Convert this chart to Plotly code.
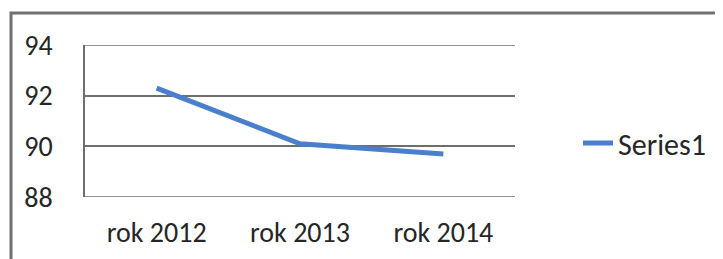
import plotly.graph_objects as go

categories = ["rok 2012", "rok 2013", "rok 2014"]
series1 = [92.3, 90.1, 89.7]
y_ticks = [88, 90, 92, 94]

OFF = 8  # page body margin
# target plot-area edges in screen pixels
SL, SR, ST, SB = 85, 515, 45, 197
L, R, T, B = SL - OFF, SR - OFF, ST - OFF, SB - OFF
W, H = 723, 259

fig = go.Figure()
fig.add_trace(go.Scatter(
    x=categories, y=series1, mode="lines", name="Series1",
    line=dict(color="#4A7FCC", width=5),
))

def px_to_paper_x(p):
    return (p - SL) / (SR - SL)

def px_to_paper_y(p):
    return 1 - (p - ST) / (SB - ST)

fig.add_shape(type="rect", xref="paper", yref="paper",
              x0=px_to_paper_x(11), x1=px_to_paper_x(780),
              y0=px_to_paper_y(320), y1=px_to_paper_y(13),
              line=dict(color="#707070", width=3), layer="below")

for v in (y_ticks[0], y_ticks[-1]):
    fig.add_shape(type="line", xref="paper", yref="y", x0=0, x1=1, y0=v, y1=v,
                  line=dict(color="#6e6e6e", width=1.6), layer="below")

font_fam = "Carlito, Liberation Sans Narrow, Arial Narrow, sans-serif"
fig.update_layout(
    width=W, height=H,
    margin=dict(l=L, r=W - R, t=T, b=H - B),
    paper_bgcolor="white", plot_bgcolor="white",
    font=dict(family=font_fam, size=28, color="#262626"),
    showlegend=True,
    legend=dict(x=px_to_paper_x(578), y=px_to_paper_y(143), xanchor="left", yanchor="middle",
                font=dict(size=30), bgcolor="rgba(0,0,0,0)"),
    xaxis=dict(type="category", range=[-0.5, 2.5], showgrid=False, zeroline=False,
               showline=False, ticks="", ticklabelstandoff=16),
    yaxis=dict(range=[88, 94], tickvals=y_ticks, showgrid=True, gridcolor="#6e6e6e", gridwidth=1.6,
               zeroline=False, showline=True, linecolor="#6e6e6e", linewidth=1.6,
               ticks="", ticklabelstandoff=25),
)

fig.write_html("out.html")
